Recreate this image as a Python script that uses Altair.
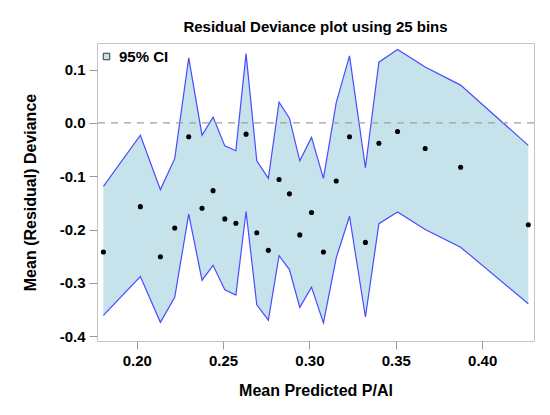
import altair as alt
import pandas as pd

# Bin mean predicted values (x), mean residual deviance, and 95% CI bounds
x_mid = [0.1807, 0.2021, 0.2137, 0.2220, 0.2301, 0.2378, 0.2442, 0.2510, 0.2574,
         0.2633, 0.2695, 0.2762, 0.2824, 0.2884, 0.2944, 0.3012, 0.3081, 0.3155,
         0.3232, 0.3324, 0.3402, 0.3510, 0.3670, 0.3875, 0.4267]
mean_dev = [-0.242, -0.157, -0.251, -0.197, -0.026, -0.160, -0.127, -0.180, -0.188,
            -0.021, -0.206, -0.239, -0.106, -0.133, -0.210, -0.168, -0.242, -0.109,
            -0.026, -0.224, -0.038, -0.016, -0.048, -0.083, -0.191]
upper = [-0.119, -0.023, -0.125, -0.067, 0.122, -0.023, 0.011, -0.043, -0.052,
         0.130, -0.071, -0.104, 0.039, 0.009, -0.071, -0.027, -0.104, 0.038,
         0.126, -0.084, 0.114, 0.138, 0.105, 0.071, -0.042]
lower = [-0.361, -0.288, -0.374, -0.327, -0.171, -0.295, -0.267, -0.313, -0.323,
         -0.166, -0.341, -0.370, -0.249, -0.275, -0.346, -0.308, -0.375, -0.253,
         -0.175, -0.364, -0.189, -0.167, -0.200, -0.233, -0.339]
x_ticks = [0.20, 0.25, 0.30, 0.35, 0.40]
y_ticks = [-0.4, -0.3, -0.2, -0.1, 0.0, 0.1]

df = pd.DataFrame({"x": x_mid, "dev": mean_dev, "upper": upper, "lower": lower,
                   "band": ["95% CI"] * len(x_mid)})

FONT = "Liberation Sans"
FILL = "#c6e3ec"
LINE = "#4a4aff"

xs = alt.Scale(domain=[0.177, 0.430], nice=False, zero=False)
ys = alt.Scale(domain=[-0.409, 0.150], nice=False, zero=False)

x_axis = alt.Axis(values=x_ticks, format=".2f", title="Mean Predicted P/Al",
                  labelExpr="replace(format(datum.value, '.2f'), '\u2212', '-')")
y_axis = alt.Axis(values=y_ticks, format=".1f", title="Mean (Residual) Deviance",
                  labelExpr="replace(format(datum.value, '.1f'), '\u2212', '-')")

base = alt.Chart(df)

band = base.mark_area(opacity=1, interpolate="linear").encode(
    x=alt.X("x:Q", scale=xs, axis=x_axis),
    y=alt.Y("lower:Q", scale=ys, axis=y_axis),
    y2="upper:Q",
    color=alt.Color("band:N", scale=alt.Scale(domain=["95% CI"], range=[FILL]),
                    legend=alt.Legend(title=None, orient="none", legendX=0, legendY=4,
                                      symbolType="square", symbolSize=42,
                                      symbolStrokeColor="#333333", symbolStrokeWidth=1,
                                      symbolOpacity=1, labelFont=FONT, labelFontSize=15,
                                      labelFontWeight="bold", labelColor="black",
                                      labelOffset=5, padding=2)),
)

up_line = base.mark_line(color=LINE, strokeWidth=1.2).encode(
    x=alt.X("x:Q", scale=xs), y=alt.Y("upper:Q", scale=ys))
lo_line = base.mark_line(color=LINE, strokeWidth=1.2).encode(
    x=alt.X("x:Q", scale=xs), y=alt.Y("lower:Q", scale=ys))

ref = alt.Chart(pd.DataFrame({"v": [0.0]})).mark_rule(
    color="#a0a0a0", strokeDash=[7, 6], strokeWidth=1.2).encode(
    y=alt.Y("v:Q", scale=ys))

pts = base.mark_circle(color="black", opacity=1, size=26).encode(
    x=alt.X("x:Q", scale=xs), y=alt.Y("dev:Q", scale=ys))

chart = alt.layer(band, up_line, lo_line, ref, pts).properties(
    width=437, height=298,
    title=alt.Title("Residual Deviance plot using 25 bins", font=FONT, fontSize=15,
                    fontWeight="bold", color="black", anchor="middle", frame="group",
                    offset=8),
    padding={"left": 14, "top": 12, "right": 5, "bottom": 5},
).configure_view(stroke="#c4c4c4", strokeWidth=1).configure_axis(
    grid=False, domain=False, tickColor="#9a9a9a", tickSize=8, labelPadding=4,
    labelFont=FONT, labelFontSize=15, labelFontWeight="bold", labelColor="black",
    titleFont=FONT, titleFontSize=16, titleFontWeight="bold", titleColor="black",
).configure_axisY(titlePadding=21).configure_axisX(titlePadding=14)

chart.save("out.html", embed_options={"renderer": "svg", "actions": False})
